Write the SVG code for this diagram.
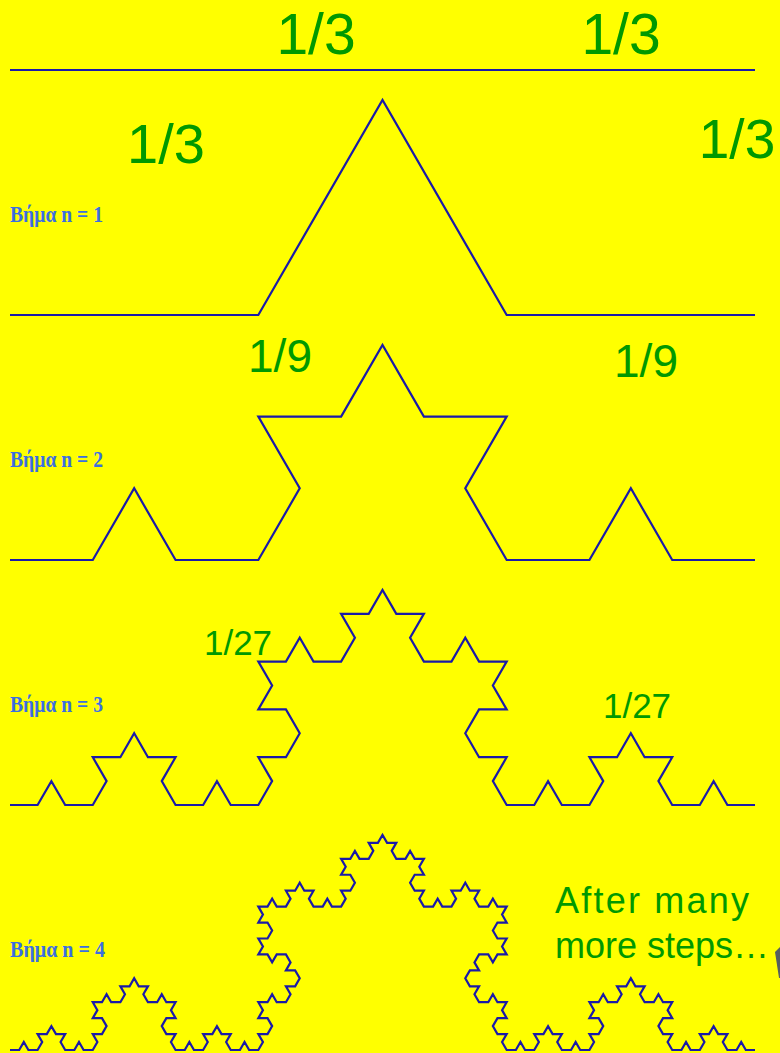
<svg xmlns="http://www.w3.org/2000/svg" width="780" height="1053" viewBox="0 0 780 1053">
<style>
.k{fill:none;stroke:#1a1aa8;stroke-width:2.2;vector-effect:non-scaling-stroke;stroke-linejoin:miter}
.f{font-family:"Liberation Sans",Arial,sans-serif;fill:#009900;text-anchor:middle}
.s{font-family:"Liberation Serif","DejaVu Serif",serif;font-weight:bold;font-size:23px;fill:#3b6fe0}
.t{font-family:"Liberation Sans",Arial,sans-serif;font-size:36px;fill:#009900}
</style>
<rect width="780" height="1053" fill="#ffff00"/>
<g id="curves">
<path id="step0" class="k" d="M10,70H755"/>
<path id="step1" class="k" d="M10,315H258.33L382.5,99.94L506.67,315H755"/>
<path id="step2" class="k" transform="translate(10,560) scale(41.38889)" d="M0,0h2l1-1.732l1 1.732h2l1-1.732l-1-1.732h2l1-1.732l1 1.732h2l-1 1.732l1 1.732h2l1-1.732l1 1.732h2"/>
<path id="step3" class="k" transform="translate(10,805) scale(13.796296)" d="M0,0h2l1-1.732l1 1.732h2l1-1.732l-1-1.732h2l1-1.732l1 1.732h2l-1 1.732l1 1.732h2l1-1.732l1 1.732h2l1-1.732l-1-1.732h2l1-1.732l-1-1.732h-2l1-1.732l-1-1.732h2l1-1.732l1 1.732h2l1-1.732l-1-1.732h2l1-1.732l1 1.732h2l-1 1.732l1 1.732h2l1-1.732l1 1.732h2l-1 1.732l1 1.732h-2l-1 1.732l1 1.732h2l-1 1.732l1 1.732h2l1-1.732l1 1.732h2l1-1.732l-1-1.732h2l1-1.732l1 1.732h2l-1 1.732l1 1.732h2l1-1.732l1 1.732h2"/>
<path id="step4" class="k" transform="translate(10,1050) scale(4.5987654)" d="M0,0h2l1-1.732l1 1.732h2l1-1.732l-1-1.732h2l1-1.732l1 1.732h2l-1 1.732l1 1.732h2l1-1.732l1 1.732h2l1-1.732l-1-1.732h2l1-1.732l-1-1.732h-2l1-1.732l-1-1.732h2l1-1.732l1 1.732h2l1-1.732l-1-1.732h2l1-1.732l1 1.732h2l-1 1.732l1 1.732h2l1-1.732l1 1.732h2l-1 1.732l1 1.732h-2l-1 1.732l1 1.732h2l-1 1.732l1 1.732h2l1-1.732l1 1.732h2l1-1.732l-1-1.732h2l1-1.732l1 1.732h2l-1 1.732l1 1.732h2l1-1.732l1 1.732h2l1-1.732l-1-1.732h2l1-1.732l-1-1.732h-2l1-1.732l-1-1.732h2l1-1.732l1 1.732h2l1-1.732l-1-1.732h2l1-1.732l-1-1.732h-2l1-1.732l-1-1.732h-2l-1 1.732l-1-1.732h-2l1-1.732l-1-1.732h2l1-1.732l-1-1.732h-2l1-1.732l-1-1.732h2l1-1.732l1 1.732h2l1-1.732l-1-1.732h2l1-1.732l1 1.732h2l-1 1.732l1 1.732h2l1-1.732l1 1.732h2l1-1.732l-1-1.732h2l1-1.732l-1-1.732h-2l1-1.732l-1-1.732h2l1-1.732l1 1.732h2l1-1.732l-1-1.732h2l1-1.732l1 1.732h2l-1 1.732l1 1.732h2l1-1.732l1 1.732h2l-1 1.732l1 1.732h-2l-1 1.732l1 1.732h2l-1 1.732l1 1.732h2l1-1.732l1 1.732h2l1-1.732l-1-1.732h2l1-1.732l1 1.732h2l-1 1.732l1 1.732h2l1-1.732l1 1.732h2l-1 1.732l1 1.732h-2l-1 1.732l1 1.732h2l-1 1.732l1 1.732h-2l-1 1.732l-1-1.732h-2l-1 1.732l1 1.732h-2l-1 1.732l1 1.732h2l-1 1.732l1 1.732h2l1-1.732l1 1.732h2l-1 1.732l1 1.732h-2l-1 1.732l1 1.732h2l-1 1.732l1 1.732h2l1-1.732l1 1.732h2l1-1.732l-1-1.732h2l1-1.732l1 1.732h2l-1 1.732l1 1.732h2l1-1.732l1 1.732h2l1-1.732l-1-1.732h2l1-1.732l-1-1.732h-2l1-1.732l-1-1.732h2l1-1.732l1 1.732h2l1-1.732l-1-1.732h2l1-1.732l1 1.732h2l-1 1.732l1 1.732h2l1-1.732l1 1.732h2l-1 1.732l1 1.732h-2l-1 1.732l1 1.732h2l-1 1.732l1 1.732h2l1-1.732l1 1.732h2l1-1.732l-1-1.732h2l1-1.732l1 1.732h2l-1 1.732l1 1.732h2l1-1.732l1 1.732h2"/>
</g>
<g id="fractions">
<text class="f" x="316" y="54" font-size="57">1/3</text>
<text class="f" x="621" y="54" font-size="57">1/3</text>
<text class="f" x="166" y="163" font-size="56">1/3</text>
<text class="f" x="737" y="158" font-size="55">1/3</text>
<text class="f" x="280" y="372" font-size="46">1/9</text>
<text class="f" x="646" y="377" font-size="46">1/9</text>
<text class="f" x="238" y="655" font-size="35">1/27</text>
<text class="f" x="637" y="718" font-size="35">1/27</text>
</g>
<g id="steps">
<text class="s" x="10" y="222" textLength="93" lengthAdjust="spacingAndGlyphs">Βήμα n = 1</text>
<text class="s" x="10" y="467" textLength="93" lengthAdjust="spacingAndGlyphs">Βήμα n = 2</text>
<text class="s" x="10" y="712" textLength="93" lengthAdjust="spacingAndGlyphs">Βήμα n = 3</text>
<text class="s" x="10" y="957" textLength="95" lengthAdjust="spacingAndGlyphs">Βήμα n = 4</text>
</g>
<g id="note">
<text class="t" x="555" y="913" textLength="194">After many</text>
<text class="t" x="555" y="958">more steps…</text>
<polygon points="775,952 780,947 780,978 779,978" fill="#555e60"/>
</g>
</svg>
